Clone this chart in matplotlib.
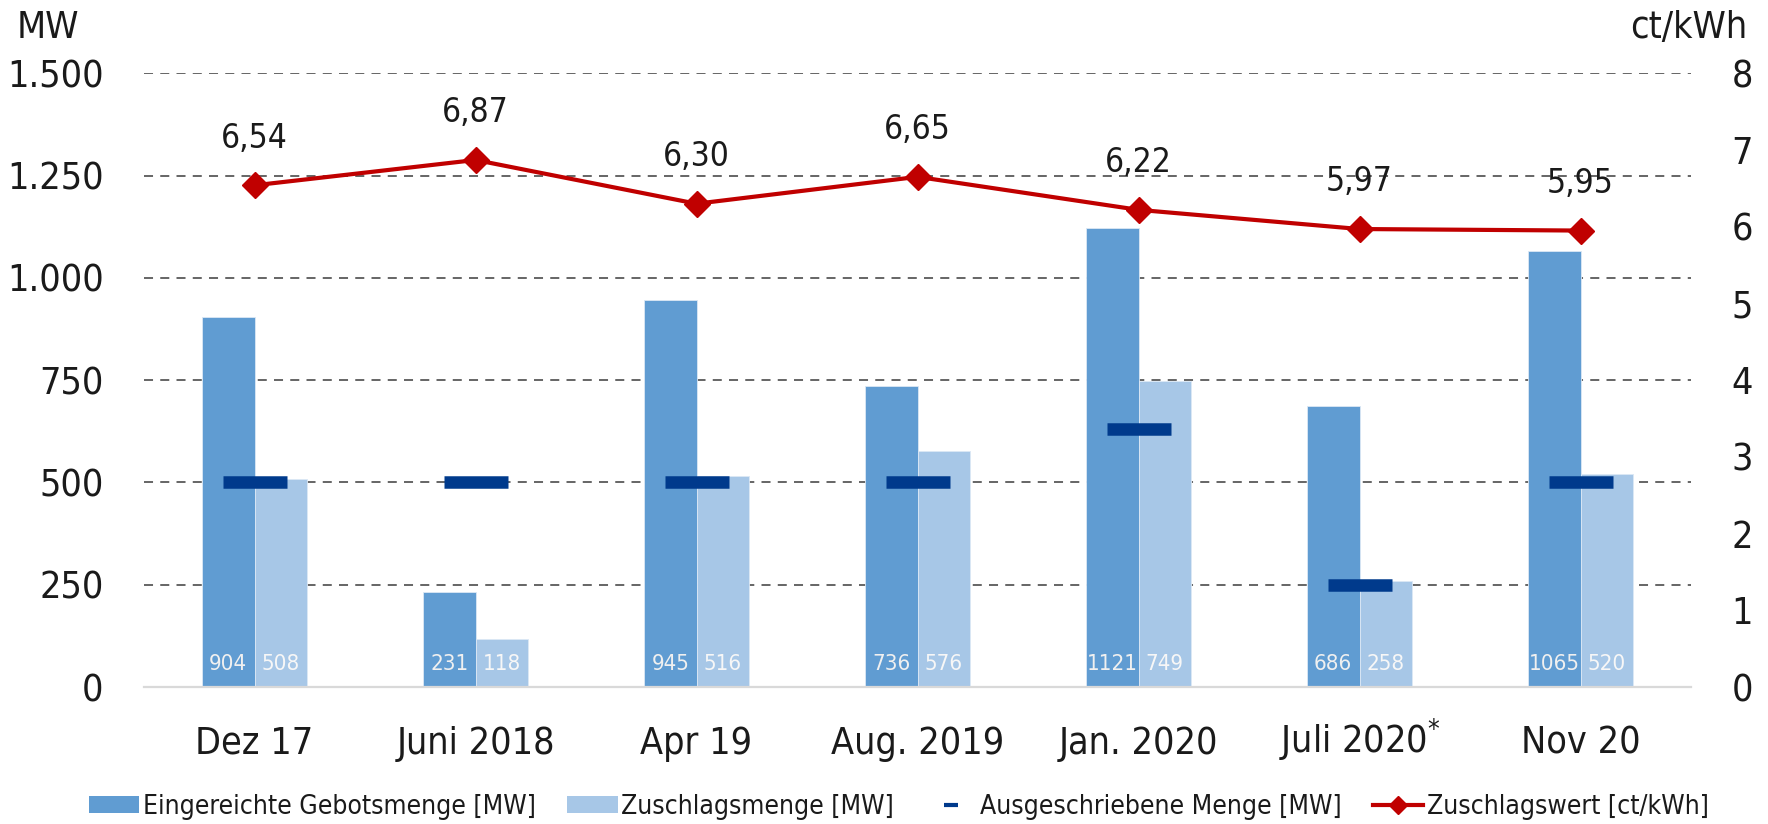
import numpy as np
import matplotlib as mpl
mpl.use("Agg")
import matplotlib.pyplot as plt
from matplotlib.patches import Patch
from matplotlib.lines import Line2D

plt.rcParams['font.family'] = ['DejaVu Sans']
plt.rcParams['font.stretch'] = 'condensed'

# data
rounds = ['Dez 17', 'Juni 2018', 'Apr 19', 'Aug. 2019', 'Jan. 2020', 'Juli 2020$^{*}$', 'Nov 20']
bids = [904, 231, 945, 736, 1121, 686, 1065]        # Eingereichte Gebotsmenge [MW]
awarded = [508, 118, 516, 576, 749, 258, 520]       # Zuschlagsmenge [MW]
tendered = [500, 500, 500, 500, 630, 250, 500]      # Ausgeschriebene Menge [MW]
price = [6.54, 6.87, 6.30, 6.65, 6.22, 5.97, 5.95]  # Zuschlagswert [ct/kWh]
mw_ticks = [0, 250, 500, 750, 1000, 1250, 1500]
ct_ticks = [0, 1, 2, 3, 4, 5, 6, 7, 8]

c_bid = '#609CD2'
c_awd = '#A7C7E7'
c_ten = '#003A8C'
c_line = '#C00000'

W, H = 1768, 824
fig = plt.figure(figsize=(W / 100, H / 100), dpi=100)
ax = fig.add_axes([144 / W, 1 - 687 / H, (1691 - 144) / W, (687 - 73.3) / H])
ax2 = ax.twinx()

x = np.arange(len(rounds))
w = 0.238
ax.bar(x - w / 2, bids, w, color=c_bid, edgecolor='#DCE8F5', linewidth=0.6, zorder=2)
ax.bar(x + w / 2, awarded, w, color=c_awd, edgecolor='#DCE8F5', linewidth=0.6, zorder=2)
ax.plot(x, tendered, linestyle='none', marker='_', markersize=46, markeredgewidth=9,
        color=c_ten, zorder=3)

for i in range(len(rounds)):
    ax.text(x[i] - w / 2, 56, str(bids[i]), ha='center', va='center', fontsize=16, color='#F0F0F0', zorder=4)
    ax.text(x[i] + w / 2, 56, str(awarded[i]), ha='center', va='center', fontsize=16, color='#F7F7F7', zorder=4)

ax.set_xlim(-0.5, len(rounds) - 0.5)
ax.set_ylim(0, 1500)
ax.set_yticks(mw_ticks)
ax.set_yticklabels([f'{v:,}'.replace(',', '.') for v in mw_ticks])
ax.set_xticks(x)
ax.set_xticklabels(rounds)
for lab in ax.get_xticklabels():
    lab.set_verticalalignment('baseline')
ax.set_axisbelow(True)
ax.yaxis.grid(True, linestyle=(0, (5, 4)), color='#595959', linewidth=1.3)
ax.tick_params(axis='y', length=0, pad=29, labelsize=27, labelcolor='#1A1A1A')
ax.tick_params(axis='x', length=0, pad=48, labelsize=27, labelcolor='#1A1A1A')
for s in ['top', 'left', 'right']:
    ax.spines[s].set_visible(False)
ax.spines['bottom'].set_color('#D9D9D9')
ax.spines['bottom'].set_linewidth(1.6)

ax2.plot(x, price, color=c_line, linewidth=3, marker='D', markersize=13, zorder=5)
for i in range(len(rounds)):
    ax2.annotate(f'{price[i]:.2f}'.replace('.', ','), (x[i], price[i]), xytext=(0, 34),
                 textcoords='offset points', ha='center', va='center', fontsize=24, color='#1A1A1A')
ax2.set_ylim(0, 8)
ax2.set_yticks(ct_ticks)
ax2.tick_params(axis='y', length=0, pad=29, labelsize=27, labelcolor='#1A1A1A')
for s in ['top', 'left', 'right', 'bottom']:
    ax2.spines[s].set_visible(False)

fig.text(17 / W, 1 - 28 / H, 'MW', ha='left', va='center', fontsize=27, color='#1A1A1A')
fig.text(1747 / W, 1 - 28 / H, 'ct/kWh', ha='right', va='center', fontsize=27, color='#1A1A1A')

handles = [
    Patch(facecolor=c_bid, edgecolor='none'),
    Patch(facecolor=c_awd, edgecolor='none'),
    Line2D([], [], linestyle='none', marker='_', markersize=10, markeredgewidth=3, color=c_ten),
    Line2D([], [], color=c_line, linewidth=3, marker='D', markersize=9),
]
labels = ['Eingereichte Gebotsmenge [MW]', 'Zuschlagsmenge [MW]',
          'Ausgeschriebene Menge [MW]', 'Zuschlagswert [ct/kWh]']
fig.legend(handles, labels, loc='center', bbox_to_anchor=(899 / W, 1 - 807 / H), ncol=4,
           frameon=False, fontsize=19, handlelength=1.9, handleheight=0.6,
           handletextpad=0.15, columnspacing=1.2, labelcolor='#1A1A1A')

fig.savefig('out.png', dpi=100)
